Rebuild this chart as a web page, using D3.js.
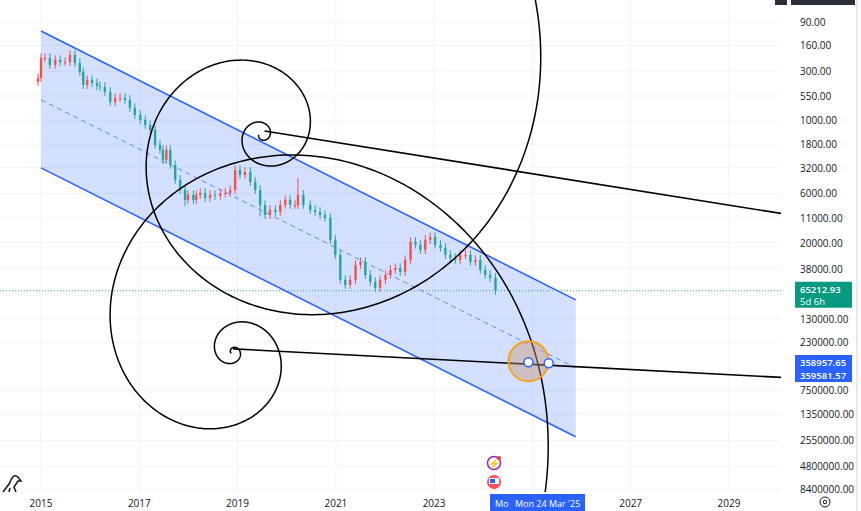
<!DOCTYPE html>
<html><head><meta charset="utf-8">
<script src="https://cdn.jsdelivr.net/npm/d3@7/dist/d3.min.js"></script>
<style>body{margin:0;background:#fff;font-family:"Open Sans",sans-serif}</style>
</head><body><svg id="c" width="861" height="511"></svg>
<script>
const priceTicks=[90,160,300,550,1000,1800,3200,6000,11000,20000,38000,130000,230000,750000,1350000,2550000,4800000,8400000];
const yearTicks=[2015,2017,2019,2021,2023,2027,2029];
const candleYears=[2014.94,2015.0,2015.08,2015.18,2015.29,2015.39,2015.49,2015.59,2015.69,2015.79,2015.86,2015.94,2016.04,2016.14,2016.20,2016.30,2016.41,2016.51,2016.61,2016.71,2016.81,2016.91,2017.02,2017.12,2017.22,2017.32,2017.42,2017.48,2017.55,2017.63,2017.73,2017.83,2017.93,2017.99,2018.10,2018.16,2018.24,2018.34,2018.44,2018.54,2018.65,2018.75,2018.85,2018.95,2019.05,2019.15,2019.26,2019.36,2019.46,2019.56,2019.66,2019.77,2019.87,2019.97,2020.07,2020.17,2020.23,2020.34,2020.48,2020.58,2020.68,2020.78,2020.89,2020.99,2021.09,2021.19,2021.29,2021.40,2021.50,2021.60,2021.70,2021.80,2021.90,2022.01,2022.11,2022.21,2022.31,2022.41,2022.52,2022.62,2022.72,2022.82,2022.92,2023.02,2023.13,2023.23,2023.33,2023.43,2023.53,2023.64,2023.74,2023.84,2023.94,2024.04,2024.14,2024.25];
const candleCloses=[355,217,217,258,228,240,240,202,246,306,421,372,401,432,442,500,638,579,579,608,739,877,993,1122,1268,1832,2070,2643,2070,2988,4316,5509,7042,6234,7042,6234,5929,6700,6234,6383,6000,5929,5509,3378,3819,3548,4531,5509,7958,10170,8995,9445,7958,7042,7958,7958,6234,7958,8995,9445,10170,10940,18750,27080,50000,56490,50000,34600,32150,44260,52500,60810,50000,44260,39090,37240,41100,30620,19680,21190,23930,18750,17500,21190,22800,27080,29150,30620,27080,27080,32150,30620,39090,44260,47640,65212];
const wickExtremes={"2015.0":112,"2020.23":4111,"2017.93":8200,"2019.46":10500};
const channelYears=[2015.0,2025.88];
const channelUpper=[112,81500];
const channelMid=[608,431500];
const channelLower=[3214,2339000];
const spiral1={year:2019.50,price:1432};
const spiral2={year:2018.91,price:291800};
const trend1Years=[2019.55,2030.25], trend1Prices=[1300,10170];
const trend2Years=[2018.91,2030.25], trend2Prices=[271000,551000];
const lastPrice=65212.93;
const labelPrices=[358957.65,359581.57];

const dt=y=>{const Y=Math.floor(y);return new Date(Date.UTC(Y,0,1)+(y-Y)*365.25*864e5);};
const svg=d3.select("#c");
const x=d3.scaleTime().domain([dt(2015),dt(2029)]).range([41,729]);
const y=d3.scaleLog().domain([90,8.4e6]).range([22,489]);
const W=781,B=492;
svg.append("g").selectAll("line").data(priceTicks).join("line").attr("x1",0).attr("x2",W).attr("y1",d=>y(d)).attr("y2",d=>y(d)).attr("stroke","#f0f3fa");
svg.append("g").selectAll("line").data(d3.range(2015,2031,2)).join("line").attr("y1",0).attr("y2",B).attr("x1",d=>x(dt(d))).attr("x2",d=>x(dt(d))).attr("stroke","#f0f3fa");
svg.append("clipPath").attr("id","pc").append("rect").attr("width",W).attr("height",B);
const g=svg.append("g").attr("clip-path","url(#pc)");
const cx=channelYears.map(v=>x(dt(v)));
g.append("path").attr("d",`M${cx[0]},${y(channelUpper[0])}L${cx[1]},${y(channelUpper[1])}L${cx[1]},${y(channelLower[1])}L${cx[0]},${y(channelLower[0])}Z`).attr("fill","rgba(41,98,255,0.2)");
[[channelUpper,null],[channelLower,null],[channelMid,"5,4"]].forEach(([a,da])=>{
 g.append("line").attr("x1",cx[0]).attr("x2",cx[1]).attr("y1",y(a[0])).attr("y2",y(a[1])).attr("stroke",da?"#5b8cff":"#2962ff").attr("stroke-width",da?1:1.6).attr("stroke-dasharray",da);
});
g.append("line").attr("x1",0).attr("x2",W).attr("y1",y(lastPrice)).attr("y2",y(lastPrice)).attr("stroke","#26a69a").attr("stroke-dasharray","1,2");
candleCloses.forEach((c,i)=>{
 const o=i?candleCloses[i-1]:c*1.1;
 let lo=Math.min(o,c)/1.12, hi=Math.max(o,c)*1.1;
 const ex=wickExtremes[String(candleYears[i])]; if(ex){ if(ex<lo)lo=ex; else hi=Math.max(hi,ex);}
 const col=c>o?"#26a69a":"#ef5350";
 const xx=x(dt(candleYears[i]));
 g.append("line").attr("x1",xx).attr("x2",xx).attr("y1",y(lo)).attr("y2",y(hi)).attr("stroke",col).attr("stroke-width",1);
 g.append("rect").attr("x",xx-1.2).attr("width",2.4).attr("y",Math.min(y(o),y(c))).attr("height",Math.max(1,Math.abs(y(o)-y(c)))).attr("fill",col);
});
function spiral(cxp,cyp,a,gr,t0,t1,dir){const pts=[];const b=Math.log(gr)/(Math.PI/2);
 for(let t=t0;t<=t1;t+=0.02){const r=a*Math.exp(b*t);pts.push([cxp+r*Math.cos(t),cyp+dir*r*Math.sin(t)]);}
 return d3.line()(pts);}
const s1x=x(dt(spiral1.year)),s1y=y(spiral1.price);
g.append("path").attr("d",spiral(s1x,s1y,72/1.55,1.55,-3*Math.PI,2.6*Math.PI,-1)).attr("fill","none").attr("stroke","#000").attr("stroke-width",1.5);
const s2x=x(dt(spiral2.year)),s2y=y(spiral2.price);
g.append("path").attr("d",spiral(s2x,s2y,46,1.6,-3.2*Math.PI,2.7*Math.PI,1)).attr("fill","none").attr("stroke","#000").attr("stroke-width",1.5);
[[trend1Years,trend1Prices],[trend2Years,trend2Prices]].forEach(([ty,tp])=>{
 g.append("line").attr("x1",x(dt(ty[0]))).attr("x2",x(dt(ty[1]))).attr("y1",y(tp[0])).attr("y2",y(tp[1])).attr("stroke","#000").attr("stroke-width",1.6);
});
const mk=[2024.92,2025.33];
const t2=d3.scaleLinear().domain(trend2Years.map(v=>x(dt(v)))).range(trend2Prices.map(p=>Math.log(p)));
g.append("circle").attr("cx",x(dt(mk[0]))).attr("cy",y(Math.exp(t2(x(dt(mk[0])))))-3).attr("r",20).attr("fill","rgba(200,150,120,0.45)").attr("stroke","#f7a21b").attr("stroke-width",2);
mk.forEach(m=>{const px=x(dt(m));g.append("circle").attr("cx",px).attr("cy",y(Math.exp(t2(px)))-2).attr("r",4.5).attr("fill","#fff").attr("stroke","#2962ff").attr("stroke-width",1.5);});
svg.append("circle").attr("cx",494).attr("cy",463).attr("r",6.5).attr("fill","#fff").attr("stroke","#9c27b0").attr("stroke-width",1.5);
svg.append("text").attr("x",494).attr("y",467).attr("text-anchor","middle").attr("font-size",10).attr("fill","#9c27b0").text("⚡");
svg.append("circle").attr("cx",499).attr("cy",458).attr("r",2).attr("fill","#f23645");
svg.append("circle").attr("cx",494).attr("cy",482).attr("r",7).attr("fill","#f7525f");
svg.append("rect").attr("x",489).attr("y",478).attr("width",10).attr("height",6).attr("fill","#fff");
svg.append("rect").attr("x",490).attr("y",479).attr("width",5).attr("height",4).attr("fill","#2962ff");
svg.append("g").selectAll("text").data(priceTicks).join("text").attr("x",800).attr("y",d=>y(d)+4).attr("font-size",10).attr("fill","#131722").text(d=>d.toFixed(2));
svg.append("g").selectAll("text").data(yearTicks).join("text").attr("x",d=>x(dt(d))).attr("y",507).attr("text-anchor","middle").attr("font-size",10).attr("fill","#131722").text(d=>d);
svg.append("rect").attr("x",795).attr("y",y(lastPrice)-9).attr("width",57).attr("height",26).attr("fill","#089981");
svg.append("text").attr("x",800).attr("y",y(lastPrice)+2).attr("font-size",9.5).attr("font-weight",600).attr("fill","#fff").text(lastPrice.toFixed(2));
svg.append("text").attr("x",800).attr("y",y(lastPrice)+14).attr("font-size",9.5).attr("fill","#fff").text("5d 6h");
svg.append("rect").attr("x",795).attr("y",355).attr("width",57).attr("height",27).attr("fill","#2962ff");
labelPrices.forEach((p,i)=>svg.append("text").attr("x",800).attr("y",366+i*12.5).attr("font-size",9.5).attr("font-weight",600).attr("fill","#fff").text(p.toFixed(2)));
svg.append("rect").attr("x",490).attr("y",494).attr("width",95).attr("height",17).attr("fill","#2962ff");
svg.append("text").attr("x",495).attr("y",507).attr("font-size",9).attr("fill","#fff").text("Mo");
svg.append("text").attr("x",515).attr("y",507).attr("font-size",9).attr("fill","#fff").text("Mon 24 Mar '25");
svg.append("rect").attr("x",775).attr("y",0).attr("width",12).attr("height",5).attr("fill","#2a2e39");
svg.append("rect").attr("x",791).attr("y",0).attr("width",64).attr("height",5).attr("fill","#2a2e39");
svg.append("line").attr("x1",857).attr("x2",857).attr("y1",0).attr("y2",511).attr("stroke","#d1d4dc");
svg.append("circle").attr("cx",825).attr("cy",502).attr("r",5).attr("fill","none").attr("stroke","#131722");
svg.append("circle").attr("cx",825).attr("cy",502).attr("r",1.8).attr("fill","none").attr("stroke","#131722");
svg.append("path").attr("d","M3,492 L9,484 L12,478 Q15,474 18,477 L21,481 L18,481 L14,487 L16,492 M9,492 L10,488").attr("fill","none").attr("stroke","#131722").attr("stroke-width",1.5);
</script></body></html>
